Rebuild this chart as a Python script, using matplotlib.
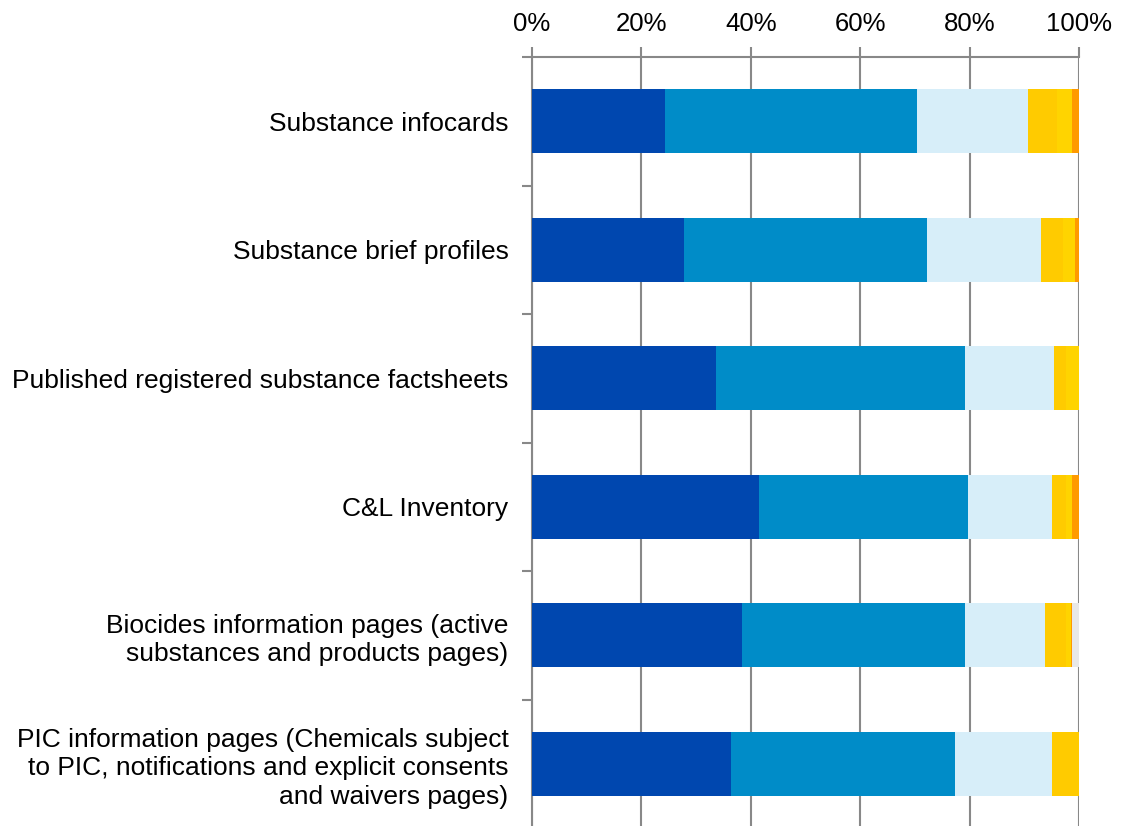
import matplotlib.pyplot as plt
import numpy as np
from matplotlib.ticker import FixedLocator

plt.rcParams['font.family'] = ['Liberation Sans', 'DejaVu Sans']

categories = [
    "Substance infocards",
    "Substance brief profiles",
    "Published registered substance factsheets",
    "C&L Inventory",
    "Biocides information pages (active\nsubstances and products pages)",
    "PIC information pages (Chemicals subject\nto PIC, notifications and explicit consents\nand waivers pages)",
]

# shares in percent (one list per segment, top to bottom bar)
seg_dark = [24.3, 27.8, 33.6, 41.5, 38.4, 36.4]
seg_mid = [46.1, 44.4, 45.6, 38.2, 40.8, 40.9]
seg_light = [20.3, 20.9, 16.2, 15.3, 14.6, 17.7]
seg_yellow = [5.2, 3.9, 2.2, 2.6, 3.8, 5.0]
seg_yellow2 = [2.9, 2.3, 2.4, 1.2, 0.9, 0.0]
seg_orange = [1.2, 0.7, 0.0, 1.2, 0.3, 0.0]
seg_grey = [0.0, 0.0, 0.0, 0.0, 1.2, 0.0]

segments = [seg_dark, seg_mid, seg_light, seg_yellow, seg_yellow2, seg_orange, seg_grey]
colors = ["#0047AF", "#008CC8", "#D7EEF9", "#FFCB00", "#FFD400", "#FF9A00", "#E8E8E8"]

fig = plt.figure(figsize=(11.25, 8.26), dpi=100)
ax = fig.add_axes([532 / 1125, 0, (1079 - 532) / 1125, (826 - 57) / 826])

y = np.arange(len(categories))
left = np.zeros(len(categories))
for vals, c in zip(segments, colors):
    vals = np.array(vals)
    ax.barh(y, vals, left=left, height=0.5, color=c, zorder=3)
    left += vals

ax.set_xlim(0, 100)
ax.set_ylim(5.484, -0.5)

ax.set_xticks(np.arange(0, 101, 20))
ax.set_xticklabels([f"{v}%" for v in range(0, 101, 20)])
ax.xaxis.tick_top()
ax.tick_params(axis='x', which='major', length=7, width=1.5, color="#888888",
               labelsize=18.5, pad=8, direction='out')
ax.grid(axis='x', color="#888888", lw=1.5, zorder=0)

ax.set_yticks(y)
ax.set_yticklabels(categories, fontsize=19, linespacing=1.22)
ax.tick_params(axis='y', which='major', length=0, pad=17)
ax.yaxis.set_minor_locator(FixedLocator(np.arange(-0.5, 5.0, 1.0)))
ax.tick_params(axis='y', which='minor', length=7, width=1.5, color="#888888")

for s in ['right', 'bottom']:
    ax.spines[s].set_visible(False)
for s in ['left', 'top']:
    ax.spines[s].set_color("#888888")
    ax.spines[s].set_linewidth(1.5)

fig.savefig("out.png", dpi=100)
